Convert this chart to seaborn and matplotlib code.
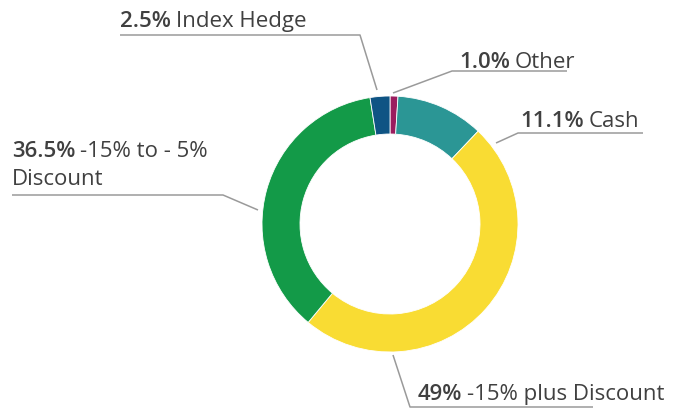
import matplotlib
matplotlib.use("Agg")
from matplotlib import pyplot as plt
import seaborn as sb

# portfolio split
segments = ["Other", "Cash", "-15% plus Discount", "-15% to - 5%\nDiscount", "Index Hedge"]
shares = [1.0, 11.1, 49.0, 36.5, 2.5]
share_labels = ["1.0%", "11.1%", "49%", "36.5%", "2.5%"]
seg_colors = ["#9b1d5e", "#2b9695", "#f9dc33", "#139a48", "#0f5484"]

sb.set_theme(style="white")
plt.rcParams['font.family'] = ['Open Sans', 'DejaVu Sans']

W, H = 678, 409
fig = plt.figure(figsize=(W / 100, H / 100), dpi=100)
ax = fig.add_axes([0, 0, 1, 1])

def py(y):
	# pixel row (top origin) -> data y
	return H - y

cx, cy, R = 390, 224, 128
ax.pie(shares, colors=sb.color_palette(seg_colors), startangle=90, counterclock=False,
	center=(cx, py(cy)), radius=R,
	wedgeprops=dict(width=38, edgecolor="white", linewidth=0.6))

ax.set_xlim(0, W)
ax.set_ylim(0, H)
ax.set_aspect("auto")
ax.axis("off")

# label placement: text start, baseline, leader line points (pixels)
label_pos = [
	(459, 68, [(567, 71), (452, 71), (393, 93)]),
	(520, 127, [(643, 133), (518, 133), (496, 143)]),
	(418, 400, [(593, 407), (410, 407), (393, 355)]),
	(12, 157, [(12, 195), (223, 195), (258, 210)]),
	(120, 27, [(120, 35), (360, 35), (377, 90)]),
]

txt_color = "#404040"
fsize = 16
renderer = fig.canvas.get_renderer()

for seg, pct, (tx, ty, pts) in zip(segments, share_labels, label_pos):
	xs = [p[0] for p in pts]
	ys = [py(p[1]) for p in pts]
	ax.plot(xs, ys, color="#9a9a9a", linewidth=1.1, solid_capstyle="butt")
	t = ax.text(tx, py(ty), pct, fontsize=fsize, fontweight="semibold", color=txt_color,
		ha="left", va="baseline")
	bb = t.get_window_extent(renderer=renderer)
	lines = seg.split("\n")
	ax.text(bb.x1 + 5, py(ty), lines[0], fontsize=fsize, color=txt_color,
		ha="left", va="baseline")
	for i, extra in enumerate(lines[1:]):
		ax.text(tx, py(ty + 28 * (i + 1)), extra, fontsize=fsize, color=txt_color,
			ha="left", va="baseline")

plt.savefig("out.png", dpi=100)
plt.close("all")
